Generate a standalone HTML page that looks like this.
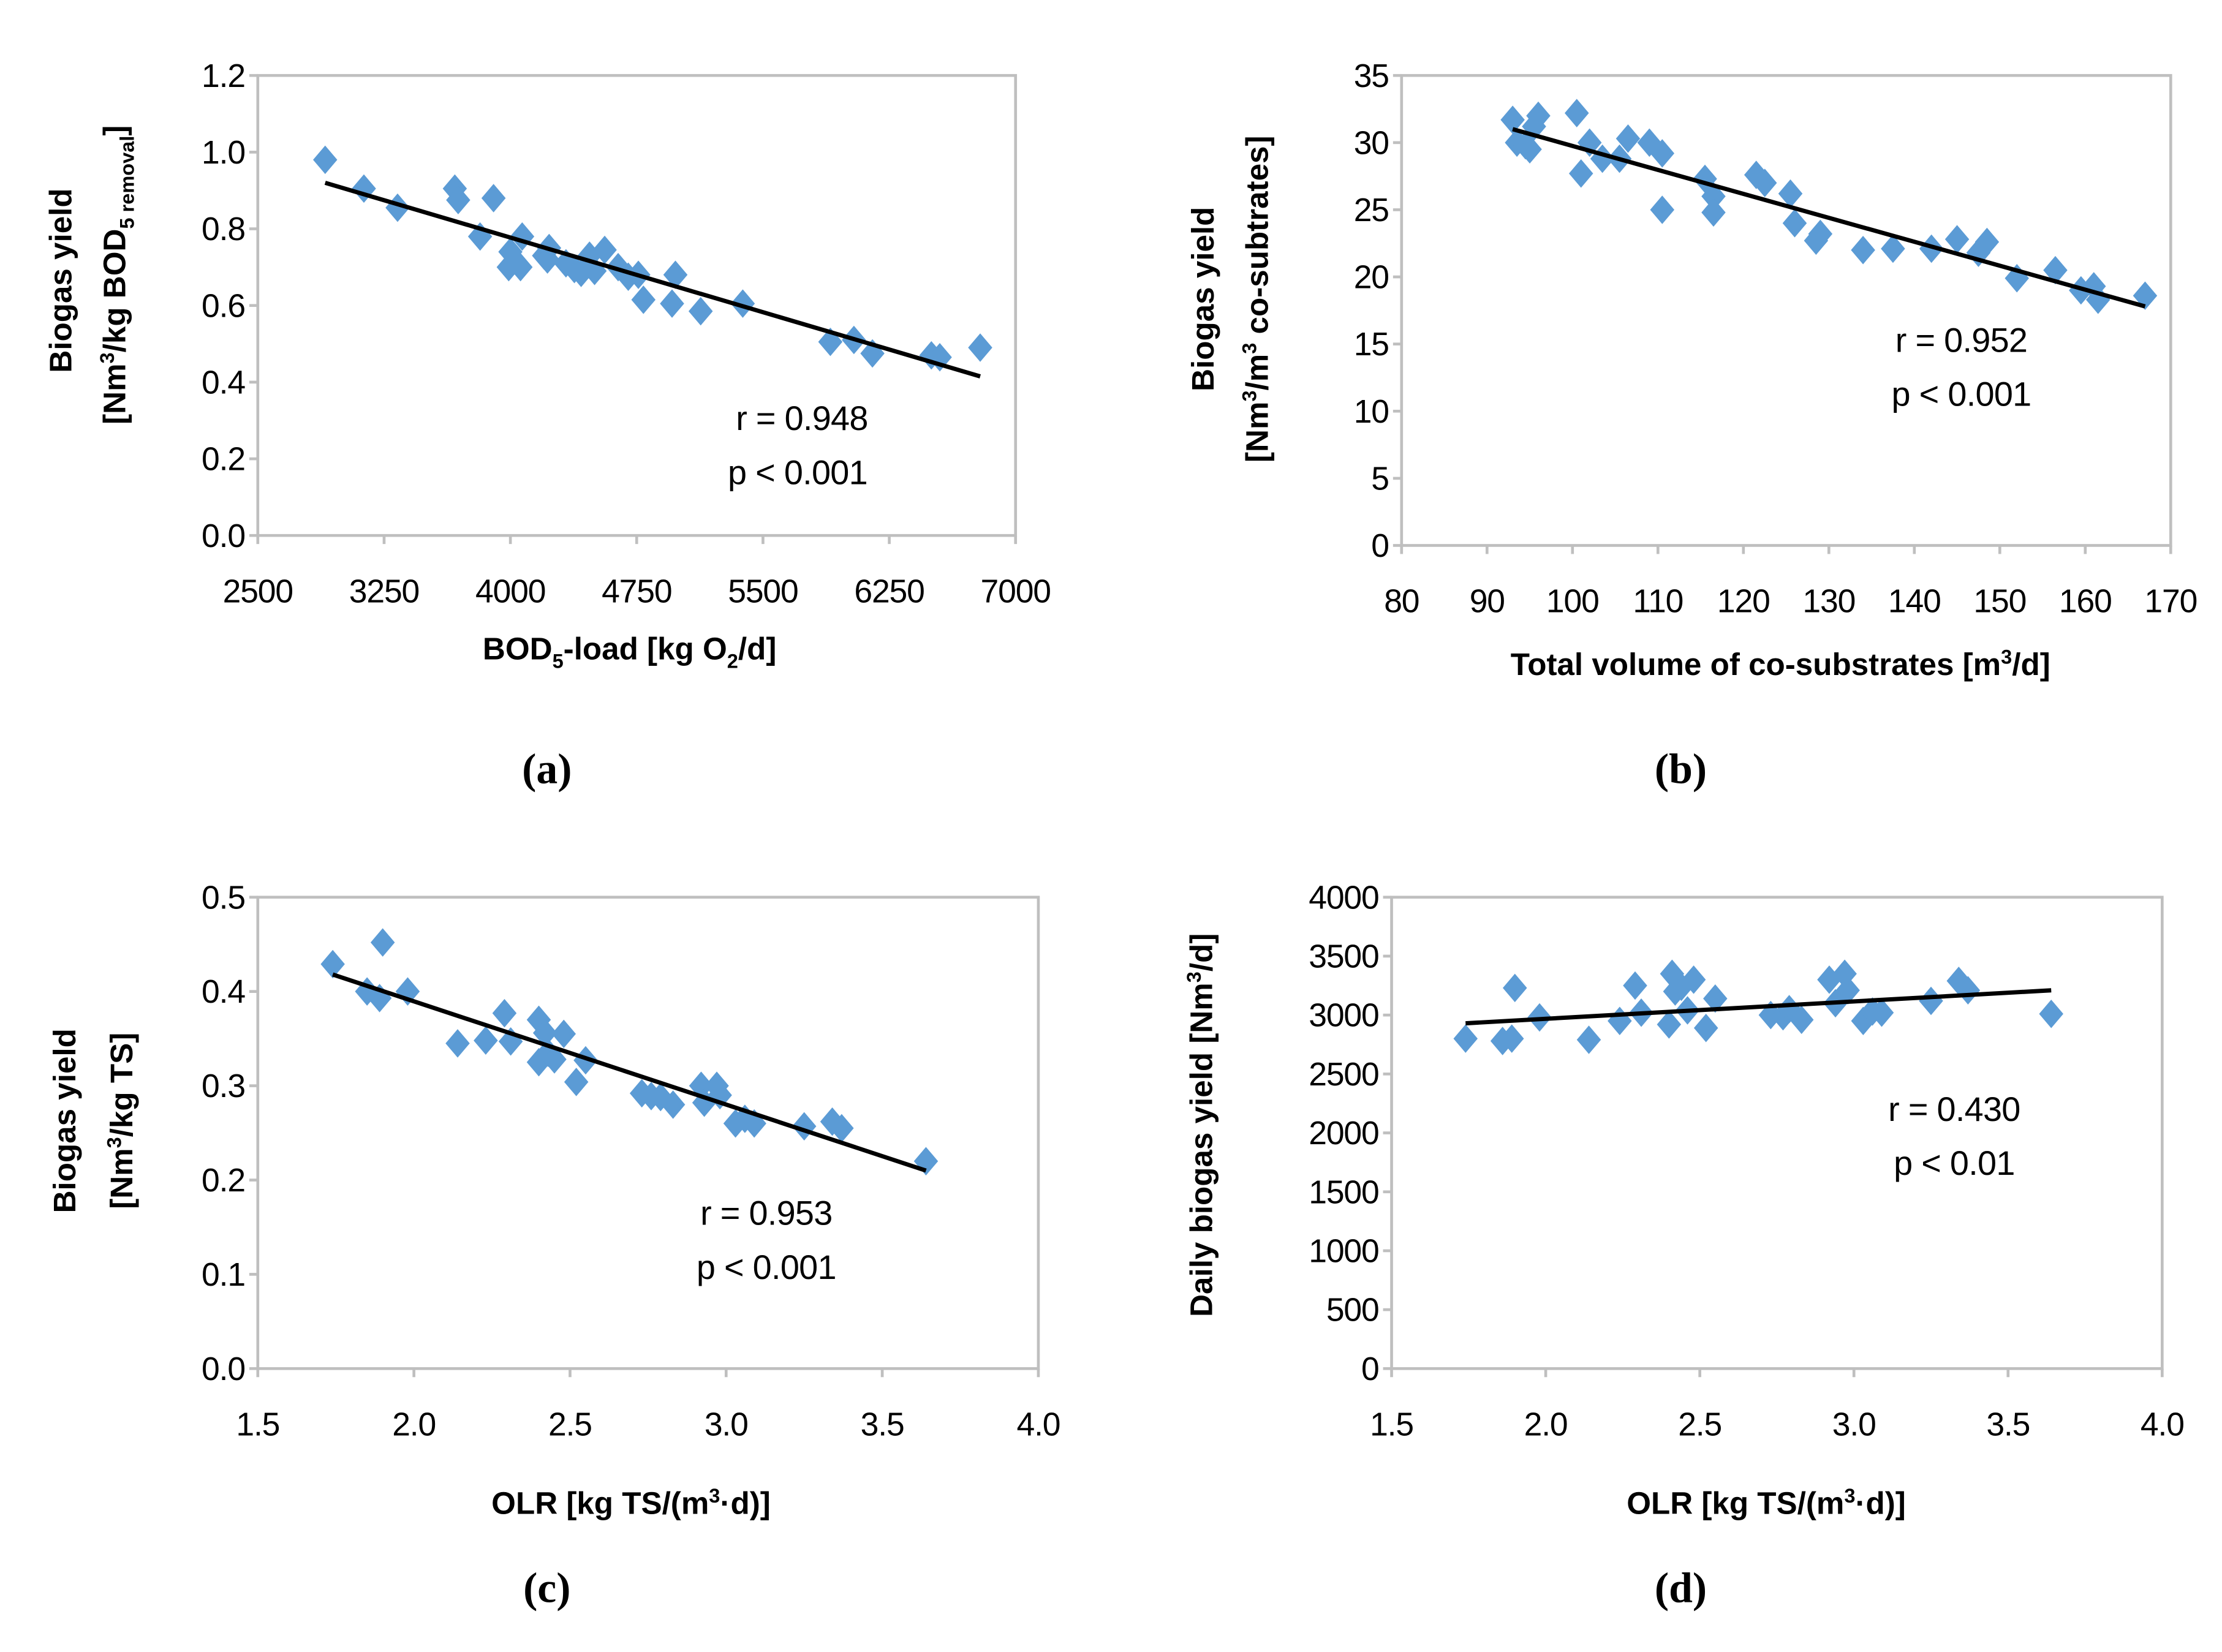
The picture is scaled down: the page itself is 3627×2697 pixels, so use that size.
<!DOCTYPE html>
<html><head><meta charset="utf-8"><style>
html,body{margin:0;padding:0;background:#fff}
svg{display:block}
text{font-family:"Liberation Sans",sans-serif;fill:#000}
.tick{font-size:23px;letter-spacing:-0.5px}
.ttl{font-size:22px;font-weight:bold}
.ann{font-size:24px;letter-spacing:-0.3px}
.cap{font-family:"Liberation Serif",serif;font-size:30px;font-weight:bold}
</style></head><body>
<svg id="fig" width="3627" height="2697" viewBox="0 0 1560 1160" xmlns="http://www.w3.org/2000/svg">
<rect width="1560" height="1160" fill="#fff"/>
</svg>
<script>
const aX=[2900,3130,3330,3670,3690,3900,3820,3990,4000,4070,4060,4200,4230,4220,4330,4380,4420,4470,4500,4560,4640,4700,4760,4790,4960,4980,5130,5380,5900,6040,6150,6500,6550,6790];
const aY=[0.98,0.905,0.855,0.905,0.875,0.88,0.78,0.70,0.74,0.78,0.70,0.73,0.75,0.72,0.71,0.695,0.685,0.73,0.69,0.745,0.70,0.675,0.68,0.615,0.605,0.68,0.585,0.605,0.505,0.51,0.475,0.47,0.465,0.49];
const aTrend=[[2900,0.92],[6790,0.415]];
const aXTicks=[2500,3250,4000,4750,5500,6250,7000];
const aYTicks=["0.0","0.2","0.4","0.6","0.8","1.0","1.2"];
const bX=[93,93.5,95,95.5,96,94.5,100.5,101,102,103.5,105.5,106.5,109,110.5,110.5,115.5,116.5,116.5,121.5,122.5,125.5,126,128.5,129,134,137.5,142,145,147.5,148.5,152,156.5,159.5,161,161.5,167];
const bY=[31.7,30,29.5,31.2,32,29.8,32.2,27.7,30,28.8,28.8,30.3,30,29.2,25,27.3,26,24.8,27.6,27,26.2,24,22.7,23.2,22,22.1,22.1,22.8,21.8,22.6,19.9,20.5,19,19.3,18.3,18.6];
const bTrend=[[93,31],[167,17.8]];
const bXTicks=[80,90,100,110,120,130,140,150,160,170];
const bYTicks=["0","5","10","15","20","25","30","35"];
const cX=[1.74,1.85,1.89,1.90,1.98,2.14,2.23,2.29,2.31,2.40,2.40,2.42,2.43,2.45,2.48,2.52,2.55,2.73,2.76,2.79,2.83,2.92,2.93,2.97,2.98,3.03,3.06,3.09,3.25,3.34,3.37,3.64];
const cY=[0.429,0.40,0.393,0.452,0.40,0.345,0.348,0.377,0.347,0.37,0.325,0.356,0.335,0.328,0.355,0.304,0.327,0.292,0.289,0.288,0.28,0.30,0.282,0.30,0.29,0.26,0.265,0.26,0.257,0.262,0.255,0.22];
const cTrend=[[1.74,0.418],[3.64,0.21]];
const olrTicks=["1.5","2.0","2.5","3.0","3.5","4.0"];
const cYTicks=["0.0","0.1","0.2","0.3","0.4","0.5"];
const dX=[1.74,1.86,1.89,1.90,1.98,2.14,2.24,2.29,2.31,2.40,2.41,2.42,2.44,2.46,2.48,2.52,2.55,2.73,2.77,2.79,2.83,2.92,2.94,2.97,2.98,3.03,3.06,3.09,3.25,3.34,3.37,3.64];
const dY=[2800,2780,2800,3230,2980,2790,2950,3250,3020,2920,3350,3200,3240,3040,3300,2890,3140,3000,2990,3050,2960,3300,3100,3350,3210,2950,3030,3020,3120,3290,3210,3010];
const dTrend=[[1.74,2930],[3.64,3210]];
const dYTicks=["0","500","1000","1500","2000","2500","3000","3500","4000"];

const NS="http://www.w3.org/2000/svg";
const svg=document.getElementById('fig');
function mk(tag,attrs,parent,txt){const e=document.createElementNS(NS,tag);for(const k in attrs)e.setAttribute(k,attrs[k]);if(txt!==undefined)e.innerHTML=txt;(parent||svg).appendChild(e);return e;}

function panel(id,box,xs,ys,trend,xt,yt,xTitle,yTitles,ann,cap){
  const g=mk('g',{});
  
  
  const [L,T,R,B]=box;
  const x0=+xt[0],x1=+xt[xt.length-1],y0=+yt[0],y1=+yt[yt.length-1];
  const sx=v=>L+(v-x0)/(x1-x0)*(R-L);
  const sy=v=>B-(v-y0)/(y1-y0)*(B-T);
  const frame=mk('rect',{x:L,y:T,width:R-L,height:B-T,fill:'none',stroke:'#bfbfbf','stroke-width':2},g);
  
  
  xt.forEach(t=>{const x=sx(+t);
    mk('line',{x1:x,x2:x,y1:B,y2:B+6,stroke:'#bfbfbf','stroke-width':2},g);
    const lb=mk('text',{x:x,y:B+47,'text-anchor':'middle',class:'tick'},g,t);
    
    });
  yt.forEach(t=>{const y=sy(+t);
    mk('line',{x1:L-6,x2:L,y1:y,y2:y,stroke:'#bfbfbf','stroke-width':2},g);
    const lb=mk('text',{x:L-9,y:y+8,'text-anchor':'end',class:'tick'},g,t);
    
    });
  xs.forEach((v,i)=>{const cx=sx(v),cy=sy(ys[i]);
    const p=mk('polygon',{points:`${cx},${cy-10} ${cx+8.5},${cy} ${cx},${cy+10} ${cx-8.5},${cy}`,fill:'#5b9bd5'},g);
    
    });
  const tl=mk('line',{x1:sx(trend[0][0]),y1:sy(trend[0][1]),x2:sx(trend[1][0]),y2:sy(trend[1][1]),stroke:'#000','stroke-width':3},g);
  
  
  const xtl=mk('text',{x:xTitle[1],y:xTitle[2],'text-anchor':'middle',class:'ttl'},g,xTitle[0]);
  
  
  yTitles.forEach(yt2=>{const e=mk('text',{transform:`translate(${yt2[1]},${yt2[2]}) rotate(-90)`,'text-anchor':'middle',class:'ttl'},g,yt2[0]);
    
    });
  ann.forEach(a=>{const e=mk('text',{x:a[1],y:a[2],'text-anchor':'middle',class:'ann'},g,a[0]);
    
    });
  const c=mk('text',{x:cap[1],y:cap[2],'text-anchor':'middle',class:'cap'},g,cap[0]);
  
  
}
const sup3='<tspan font-size="14" dy="-8">3</tspan><tspan dy="8">';
panel('a',[181,53,713,376],aX,aY,aTrend,aXTicks,aYTicks,
 ['BOD<tspan font-size="14" dy="6">5</tspan><tspan dy="-6">-load [kg O</tspan><tspan font-size="14" dy="6">2</tspan><tspan dy="-6">/d]</tspan>',442,463],
 [['Biogas yield',50,197],['[Nm'+sup3+'/kg BOD</tspan><tspan font-size="14" dy="6">5 removal</tspan><tspan dy="-6">]</tspan>',88,193]],
 [['r = 0.948',563,302],['p &lt; 0.001',560,340]],['(a)',384,550]);
panel('b',[984,53,1524,383],bX,bY,bTrend,bXTicks,bYTicks,
 ['Total volume of co-substrates [m'+sup3+'/d]</tspan>',1250,474],
 [['Biogas yield',852,210],['[Nm'+sup3+'/m</tspan><tspan font-size="14" dy="-8">3</tspan><tspan dy="8"> co-subtrates]</tspan>',890,210]],
 [['r = 0.952',1377,247],['p &lt; 0.001',1377,285]],['(b)',1180,550]);
panel('c',[181,630,729,961],cX,cY,cTrend,olrTicks,cYTicks,
 ['OLR [kg TS/(m'+sup3+'·d)]</tspan>',443,1063],
 [['Biogas yield',53,787],['[Nm'+sup3+'/kg TS]</tspan>',93,787]],
 [['r = 0.953',538,860],['p &lt; 0.001',538,898]],['(c)',384,1125]);
panel('d',[977,630,1518,961],dX,dY,dTrend,olrTicks,dYTicks,
 ['OLR [kg TS/(m'+sup3+'·d)]</tspan>',1240,1063],
 [['Daily biogas yield [Nm'+sup3+'/d]</tspan>',851,790]],
 [['r = 0.430',1372,787],['p &lt; 0.01',1372,825]],['(d)',1180,1125]);
</script>
</body></html>
